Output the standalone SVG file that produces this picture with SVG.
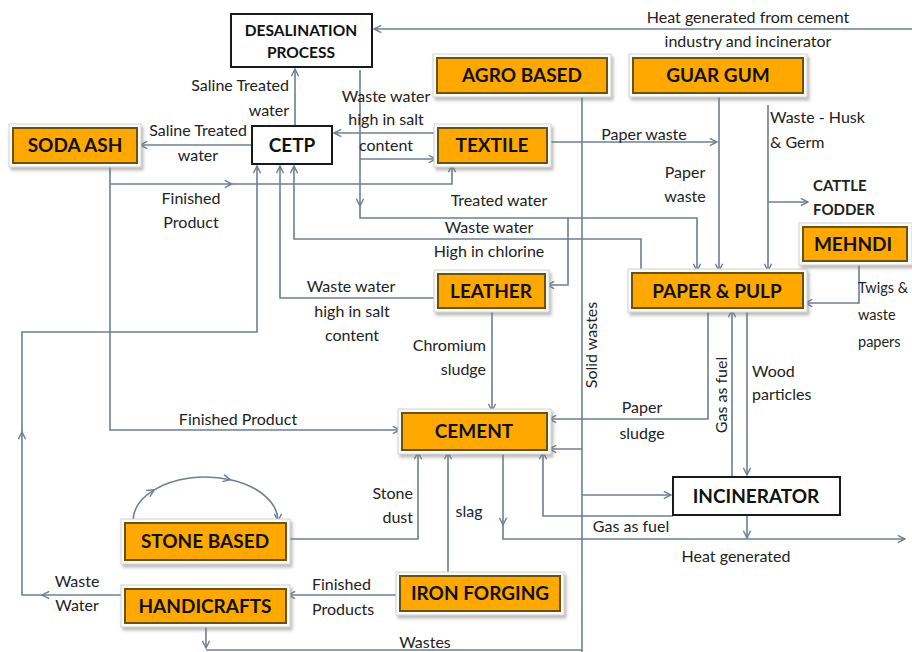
<svg xmlns="http://www.w3.org/2000/svg" width="912" height="652" viewBox="0 0 912 652">
<style>
  .frame{fill:#fbfbf6;stroke:#d2d2d2;stroke-width:1}
  .org{fill:#FFA800;stroke:#6a5210;stroke-width:2}
  .wbox{fill:#ffffff;stroke:#1a1a1a;stroke-width:2}
  .nl{font-family:Lato,"Liberation Sans",sans-serif;font-weight:bold;font-size:19px;fill:#111;text-anchor:middle}
  .lb{font-family:Lato,"Liberation Sans",sans-serif;font-size:16px;fill:#222}
  .c{text-anchor:middle}
  .e{text-anchor:end}
  .cn{fill:none;stroke:#6d7f93;stroke-width:1.6}
  .ca{fill:none;stroke:#6d7f93;stroke-width:1.6;marker-end:url(#arr)}
</style>
<defs>
  <marker id="arr" viewBox="0 0 10 10" refX="9" refY="5" markerWidth="9" markerHeight="9" markerUnits="userSpaceOnUse" orient="auto">
    <path d="M1,1 L9,5 L1,9" fill="none" stroke="#6d7f93" stroke-width="1.6"/>
  </marker>
  <filter id="sh" x="-10%" y="-20%" width="130%" height="160%">
    <feDropShadow dx="2" dy="3" stdDeviation="1.5" flood-color="#777" flood-opacity="0.5"/>
  </filter>
</defs>
<rect width="912" height="652" fill="#ffffff"/>

<g id="connectors">
  <path class="ca" d="M912,29 L374,29"/>
  <path class="ca" d="M295,126 L295,69"/>
  <path class="ca" d="M252,145 L140,145"/>
  <path class="ca" d="M438,133 L334,133"/>
  <path class="ca" d="M360,70 L360,206"/>
  <path class="ca" d="M360,206 L360,218 L697,218 L697,271"/>
  <path class="ca" d="M360,159 L436,159"/>
  <path class="ca" d="M568,218 L568,285 L547,285"/>
  <path class="ca" d="M641,273 L641,239 L294,239 L294,166"/>
  <path class="ca" d="M438,298 L280,298 L280,166"/>
  <path class="ca" d="M125,595 L42,595"/>
  <path class="ca" d="M42,595 L22,595 L22,432"/>
  <path class="ca" d="M22,432 L22,332 L257,332 L257,166"/>
  <path class="ca" d="M110,163 L110,430 L400,430"/>
  <path class="ca" d="M110,184 L232,184"/>
  <path class="ca" d="M232,184 L452,184 L452,165"/>
  <path class="ca" d="M547,142 L717,142"/>
  <path class="ca" d="M719,93 L719,271"/>
  <path class="ca" d="M768,105 L768,271"/>
  <path class="ca" d="M768,202 L808,202"/>
  <path class="ca" d="M859,261 L859,303 L805,303"/>
  <path class="cn" d="M582,93 L582,652"/>
  <path class="ca" d="M582,449 L549,449"/>
  <path class="ca" d="M582,495 L671,495"/>
  <path class="ca" d="M206,623 L206,648"/>
  <path class="cn" d="M206,650 L582,650"/>
  <path class="ca" d="M708,308 L708,419 L549,419"/>
  <path class="ca" d="M732,477 L732,310"/>
  <path class="ca" d="M747,308 L747,475"/>
  <path class="ca" d="M492,308 L492,411"/>
  <path class="ca" d="M673,516 L543,516 L543,452"/>
  <path class="ca" d="M503,450 L503,525"/>
  <path class="ca" d="M503,525 L503,539 L905,539"/>
  <path class="ca" d="M747,515 L747,538"/>
  <path class="ca" d="M286,539 L418,539 L418,452"/>
  <path class="ca" d="M448,576 L448,452"/>
  <path class="ca" d="M400,595 L288,595"/>
  <path class="ca" d="M133,521 A72.5,44 0 0 1 154.2,489.9"/>
  <path class="ca" d="M154.2,489.9 A72.5,44 0 0 1 230.3,479.7"/>
  <path class="ca" d="M230.3,479.7 A72.5,44 0 0 1 278,521"/>
</g>

<g id="desalination">
  <rect class="wbox" x="231" y="14" width="141" height="53"/>
  <text class="nl" x="301" y="36" style="font-size:15.5px">DESALINATION</text>
  <text class="nl" x="301" y="58" style="font-size:15.5px">PROCESS</text>
</g>
<g id="cetp">
  <rect class="wbox" x="252" y="126" width="80" height="38"/>
  <text class="nl" x="292" y="152">CETP</text>
</g>
<g id="soda-ash">
  <rect class="frame" filter="url(#sh)" x="9" y="124" width="132" height="43"/>
  <rect class="org" x="13" y="128" width="124" height="35"/>
  <text class="nl" x="75" y="152">SODA ASH</text>
</g>
<g id="agro-based">
  <rect class="frame" filter="url(#sh)" x="433" y="54" width="178" height="43"/>
  <rect class="org" x="437" y="58" width="170" height="35"/>
  <text class="nl" x="522" y="82">AGRO BASED</text>
</g>
<g id="guar-gum">
  <rect class="frame" filter="url(#sh)" x="629" y="54" width="178" height="43"/>
  <rect class="org" x="633" y="58" width="170" height="35"/>
  <text class="nl" x="718" y="82">GUAR GUM</text>
</g>
<g id="textile">
  <rect class="frame" filter="url(#sh)" x="434" y="124" width="117" height="43"/>
  <rect class="org" x="438" y="128" width="109" height="35"/>
  <text class="nl" x="492" y="152">TEXTILE</text>
</g>
<g id="leather">
  <rect class="frame" filter="url(#sh)" x="434" y="270" width="115" height="42"/>
  <rect class="org" x="438" y="274" width="107" height="34"/>
  <text class="nl" x="491" y="298">LEATHER</text>
</g>
<g id="paper-pulp">
  <rect class="frame" filter="url(#sh)" x="628" y="269" width="179" height="43"/>
  <rect class="org" x="632" y="273" width="171" height="35"/>
  <text class="nl" x="717" y="298">PAPER &amp; PULP</text>
</g>
<g id="mehndi">
  <rect class="frame" filter="url(#sh)" x="799" y="223" width="113" height="42"/>
  <rect class="org" x="803" y="227" width="104" height="34"/>
  <text class="nl" x="853" y="251">MEHNDI</text>
</g>
<g id="cement">
  <rect class="frame" filter="url(#sh)" x="398" y="409" width="153" height="45"/>
  <rect class="org" x="402" y="413" width="145" height="37"/>
  <text class="nl" x="474" y="438">CEMENT</text>
</g>
<g id="stone-based">
  <rect class="frame" filter="url(#sh)" x="121" y="519" width="169" height="45"/>
  <rect class="org" x="125" y="523" width="161" height="37"/>
  <text class="nl" x="205" y="548">STONE BASED</text>
</g>
<g id="handicrafts">
  <rect class="frame" filter="url(#sh)" x="121" y="585" width="169" height="42"/>
  <rect class="org" x="125" y="589" width="161" height="34"/>
  <text class="nl" x="205" y="613">HANDICRAFTS</text>
</g>
<g id="iron-forging">
  <rect class="frame" filter="url(#sh)" x="396" y="572" width="168" height="43"/>
  <rect class="org" x="400" y="576" width="160" height="35"/>
  <text class="nl" x="480" y="600">IRON FORGING</text>
</g>
<g id="incinerator">
  <rect class="wbox" x="673" y="477" width="167" height="38"/>
  <text class="nl" x="756" y="503">INCINERATOR</text>
</g>
<g id="cattle-fodder">
  <text class="lb" x="813" y="191" style="font-weight:bold;font-size:15px">CATTLE</text>
  <text class="lb" x="813" y="215" style="font-weight:bold;font-size:15px">FODDER</text>
</g>

<g id="labels">
  <text class="lb c" x="748" y="23">Heat generated from cement</text>
  <text class="lb c" x="748" y="47">industry and incinerator</text>
  <text class="lb e" x="289" y="91">Saline Treated</text>
  <text class="lb e" x="289" y="116">water</text>
  <text class="lb c" x="198" y="136">Saline Treated</text>
  <text class="lb c" x="198" y="161">water</text>
  <text class="lb c" x="386" y="102">Waste water</text>
  <text class="lb c" x="386" y="125">high in salt</text>
  <text class="lb c" x="386" y="151">content</text>
  <text class="lb c" x="191" y="204">Finished</text>
  <text class="lb c" x="191" y="228">Product</text>
  <text class="lb c" x="644" y="140">Paper waste</text>
  <text class="lb c" x="685" y="178">Paper</text>
  <text class="lb c" x="685" y="202">waste</text>
  <text class="lb" x="770" y="123">Waste - Husk</text>
  <text class="lb" x="770" y="148">&amp; Germ</text>
  <text class="lb c" x="499" y="206">Treated water</text>
  <text class="lb c" x="489" y="233">Waste water</text>
  <text class="lb c" x="489" y="257">High in chlorine</text>
  <text class="lb c" x="351" y="292">Waste water</text>
  <text class="lb c" x="352" y="317">high in salt</text>
  <text class="lb c" x="352" y="341">content</text>
  <text class="lb e" x="486" y="351">Chromium</text>
  <text class="lb e" x="486" y="375">sludge</text>
  <text class="lb c" x="238" y="425">Finished Product</text>
  <text class="lb c" transform="translate(597,345) rotate(-90)">Solid wastes</text>
  <text class="lb c" transform="translate(727,395) rotate(-90)">Gas as fuel</text>
  <text class="lb c" x="642" y="413">Paper</text>
  <text class="lb c" x="642" y="439">sludge</text>
  <text class="lb" x="752" y="377">Wood</text>
  <text class="lb" x="752" y="400">particles</text>
  <text class="lb" x="858" y="293" style="font-size:14.5px">Twigs &amp;</text>
  <text class="lb" x="858" y="320" style="font-size:14.5px">waste</text>
  <text class="lb" x="858" y="347" style="font-size:14.5px">papers</text>
  <text class="lb e" x="413" y="499">Stone</text>
  <text class="lb e" x="413" y="523">dust</text>
  <text class="lb c" x="469" y="517">slag</text>
  <text class="lb c" x="631" y="532">Gas as fuel</text>
  <text class="lb c" x="736" y="562">Heat generated</text>
  <text class="lb c" x="77" y="587">Waste</text>
  <text class="lb c" x="77" y="611">Water</text>
  <text class="lb" x="312" y="590">Finished</text>
  <text class="lb" x="312" y="615">Products</text>
  <text class="lb c" x="425" y="648">Wastes</text>
</g>
</svg>
